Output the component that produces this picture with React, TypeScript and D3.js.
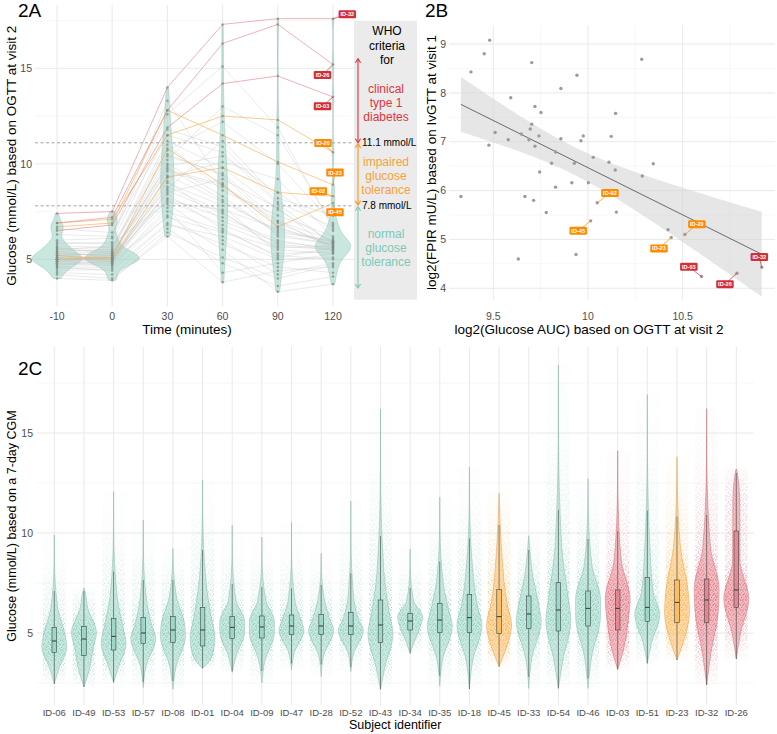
import React from "react";
import * as d3 from "d3";

const FONT = "'Liberation Sans', Arial, Helvetica, sans-serif";

// ---------------- 2A: OGTT at visit 2 ----------------
const timeLabels = ["-10", "0", "30", "60", "90", "120"];
const ogttIds = [
  "N01", "N02", "N03", "N04", "N05", "N06", "N07", "N08", "N09", "N10",
  "N11", "N12", "N13", "N14", "N15", "N16", "N17", "N18", "N19", "N20",
  "N21", "N22", "N23", "N24", "N25", "N26", "N27", "N28", "N29", "N30",
  "N31", "N32", "N33", "N34", "N35", "N36", "N37",
  "ID-20", "ID-23", "ID-02", "ID-45", "ID-32", "ID-26", "ID-03",
];
const ogttGroup = [
  "NGT", "NGT", "NGT", "NGT", "NGT", "NGT", "NGT", "NGT", "NGT", "NGT",
  "NGT", "NGT", "NGT", "NGT", "NGT", "NGT", "NGT", "NGT", "NGT", "NGT",
  "NGT", "NGT", "NGT", "NGT", "NGT", "NGT", "NGT", "NGT", "NGT", "NGT",
  "NGT", "NGT", "NGT", "NGT", "NGT", "NGT", "NGT",
  "IGT", "IGT", "IGT", "IGT", "T1D", "T1D", "T1D",
];
const gM10 = [5.0, 4.8, 5.3, 4.6, 5.5, 5.1, 4.4, 5.7, 5.2, 4.9, 6.0, 4.7, 5.4, 5.0, 4.3, 5.8, 5.1, 4.5, 5.6, 4.9, 5.3, 4.8, 6.3, 5.0, 4.6, 5.2, 5.5, 4.2, 5.9, 5.1, 4.7, 5.4, 4.0, 5.0, 5.6, 4.9, 6.6, 6.9, 6.7, 5.2, 5.0, 7.4, 6.9, 6.5];
const g0 = [5.1, 4.9, 5.2, 4.7, 5.4, 5.0, 4.5, 5.6, 5.3, 5.0, 6.1, 4.8, 5.5, 4.9, 4.2, 5.9, 5.2, 4.6, 5.5, 5.1, 5.4, 4.7, 6.2, 5.0, 4.4, 5.3, 5.7, 4.0, 5.8, 4.9, 4.9, 5.1, 3.9, 5.2, 5.3, 4.8, 6.4, 7.1, 6.9, 5.0, 5.1, 7.5, 7.2, 6.8];
const g30 = [8.2, 9.4, 10.4, 7.5, 9.9, 8.8, 6.9, 11.2, 9.6, 7.9, 12.6, 8.5, 10.7, 9.1, 6.6, 11.8, 10.0, 7.3, 11.0, 8.1, 9.3, 7.7, 13.3, 9.7, 6.8, 8.7, 10.5, 6.2, 8.0, 9.0, 7.2, 10.2, 6.4, 8.4, 9.8, 8.6, 11.5, 11.5, 12.8, 9.3, 10.8, 14.0, 12.8, 11.9];
const g60 = [7.2, 8.0, 9.5, 6.5, 10.4, 7.5, 5.8, 9.8, 8.8, 6.0, 15.1, 9.2, 12.2, 7.0, 4.8, 10.9, 8.3, 5.5, 8.6, 6.8, 10.1, 4.3, 9.0, 8.9, 6.2, 11.2, 9.4, 3.8, 7.6, 7.8, 6.4, 13.0, 5.1, 6.6, 8.1, 7.4, 10.6, 12.5, 11.5, 9.8, 8.9, 17.3, 16.3, 14.2];
const g90 = [6.0, 6.5, 7.0, 5.2, 8.5, 5.5, 4.6, 7.6, 6.9, 4.2, 11.9, 7.7, 10.0, 5.9, 3.6, 8.0, 6.3, 3.3, 7.3, 5.7, 9.2, 4.8, 6.2, 7.0, 5.0, 8.2, 6.7, 4.4, 6.6, 5.3, 5.6, 11.5, 4.0, 5.1, 6.4, 5.8, 7.9, 12.3, 10.1, 8.5, 6.7, 17.6, 17.3, 14.6];
const g120 = [5.5, 5.9, 6.0, 5.0, 6.5, 5.3, 4.3, 5.9, 5.7, 4.8, 6.6, 5.4, 6.9, 5.6, 4.1, 6.7, 5.8, 3.7, 6.2, 5.5, 6.1, 5.3, 5.8, 5.6, 5.1, 7.3, 5.7, 4.6, 5.9, 5.4, 5.7, 6.8, 4.7, 5.6, 6.0, 5.5, 5.8, 10.6, 8.9, 8.3, 7.95, 17.6, 15.2, 13.5];
const ogttThresholds = [11.1, 7.8];
const aYTicks = [5, 10, 15];
const aYMinor = [7.5, 12.5, 17.5];

// ---------------- 2B: FPIR vs glucose AUC ----------------
const aucLog2 = [9.382, 9.452, 9.481, 9.703, 9.592, 9.857, 9.942, 9.72, 9.752, 9.51, 9.703, 9.695, 9.648, 9.579, 9.688, 9.741, 9.857, 9.975, 9.963, 9.477, 9.72, 10.284, 10.146, 10.123, 9.329, 9.829, 9.808, 9.928, 9.745, 9.829, 9.915, 10.002, 9.667, 9.713, 9.78, 9.632, 9.937, 10.028, 10.111, 10.144, 10.345, 10.287, 10.049, 10.15, 10.014, 10.423, 10.44, 10.512, 10.6, 10.787, 10.918];
const fpirLog2 = [8.43, 8.8, 9.08, 8.62, 7.9, 8.09, 8.36, 7.72, 7.6, 7.19, 7.36, 7.26, 7.16, 7.04, 7.04, 7.12, 7.06, 7.12, 7.02, 6.93, 6.91, 8.69, 7.58, 7.11, 5.88, 6.79, 6.56, 6.56, 6.38, 6.07, 6.16, 6.16, 5.88, 5.8, 5.55, 4.6, 4.69, 6.68, 6.58, 6.42, 6.55, 6.3, 5.75, 5.56, 5.38, 5.2, 5.04, 5.1, 4.24, 4.31, 4.43];
const fpirIds = ["", "", "", "", "", "", "", "", "", "", "", "", "", "", "", "", "", "", "", "", "", "", "", "", "", "", "", "", "", "", "", "", "", "", "", "", "", "", "", "", "", "", "ID-02", "", "ID-45", "", "ID-23", "ID-20", "ID-03", "ID-26", "ID-32"];
const fpirGroup = ["", "", "", "", "", "", "", "", "", "", "", "", "", "", "", "", "", "", "", "", "", "", "", "", "", "", "", "", "", "", "", "", "", "", "", "", "", "", "", "", "", "", "IGT", "", "IGT", "", "IGT", "IGT", "T1D", "T1D", "T1D"];
const bXTicks = [9.5, 10, 10.5];
const bXMinor = [9.75, 10.25, 10.75];
const bYTicks = [4, 5, 6, 7, 8, 9];
const bYMinor = [4.5, 5.5, 6.5, 7.5, 8.5];

// ---------------- 2C: 7-day CGM ----------------
const cgmIds = ["ID-06", "ID-49", "ID-53", "ID-57", "ID-08", "ID-01", "ID-04", "ID-09", "ID-47", "ID-28", "ID-52", "ID-43", "ID-34", "ID-35", "ID-18", "ID-45", "ID-33", "ID-54", "ID-46", "ID-03", "ID-51", "ID-23", "ID-32", "ID-26"];
const cgmGroup = ["NGT", "NGT", "NGT", "NGT", "NGT", "NGT", "NGT", "NGT", "NGT", "NGT", "NGT", "NGT", "NGT", "NGT", "NGT", "IGT", "NGT", "NGT", "NGT", "T1D", "NGT", "IGT", "T1D", "T1D"];
const cgmMin = [2.45, 2.3, 2.53, 2.27, 2.18, 3.23, 3.03, 2.5, 3.15, 2.82, 3.07, 2.18, 3.98, 2.35, 2.2, 3.32, 2.23, 2.23, 2.23, 3.18, 3.48, 3.65, 2.4, 3.7];
const cgmQ1 = [4.02, 3.87, 4.15, 4.48, 4.53, 4.35, 4.73, 4.75, 4.93, 4.93, 4.93, 4.52, 5.15, 5.03, 5.03, 4.97, 5.23, 5.1, 5.35, 5.15, 5.57, 5.53, 5.53, 6.28];
const cgmMedian = [4.6, 4.7, 4.83, 5.0, 5.15, 5.15, 5.28, 5.3, 5.35, 5.35, 5.35, 5.4, 5.6, 5.65, 5.77, 5.82, 5.95, 6.15, 6.23, 6.23, 6.28, 6.53, 6.65, 7.15];
const cgmQ3 = [5.28, 5.32, 5.73, 5.77, 5.82, 6.27, 5.82, 5.85, 5.9, 5.93, 6.03, 6.65, 5.98, 6.48, 6.93, 7.18, 6.85, 7.52, 7.1, 7.15, 7.78, 7.65, 7.7, 10.1];
const cgmUpper = [7.1, 7.1, 8.07, 7.65, 7.65, 9.15, 7.45, 7.3, 7.23, 7.4, 7.98, 9.85, 7.25, 8.57, 9.73, 10.4, 9.15, 11.15, 9.7, 10.1, 11.12, 10.82, 10.9, 13.0];
const cgmMax = [9.9, 7.25, 12.07, 10.65, 9.23, 12.65, 10.4, 9.8, 10.53, 8.98, 11.6, 16.2, 9.2, 11.8, 13.3, 12.0, 9.87, 18.4, 12.73, 14.12, 16.93, 13.82, 16.23, 13.2];
const cYTicks = [5, 10, 15];
const cYMinor = [2.5, 7.5, 12.5, 17.5];

// ---------------- styles / layout (not data) ----------------
const COL = {
  tealFill: "#8fd0bf",
  tealDot: "#6fc3ad",
  tealStroke: "#79a99d",
  orange: "#ff9416",
  orangeDot: "#ffa52a",
  red: "#d9343f",
  redDot: "#e0596b",
  grid: "#e6e6e6",
  gridMinor: "#f1f1f1",
};
const groupFill: Record<string, string> = { NGT: COL.tealFill, IGT: "#ffb24a", T1D: "#e2707d" };
const groupDot: Record<string, string> = { NGT: COL.tealDot, IGT: COL.orangeDot, T1D: COL.redDot };
const groupStroke: Record<string, string> = { NGT: COL.tealStroke, IGT: "#d98a2a", T1D: "#c35462" };
const lineCol: Record<string, string> = { NGT: "#bdbdbd", IGT: "#f5a94a", T1D: "#e07f86" };
const labelFill: Record<string, string> = { IGT: "#ff8c00", T1D: "#d32f3a" };

const labelOffsetsA: Record<string, [number, number]> = {
  "ID-32": [14.3, -4.3], "ID-26": [-10.5, 10.5], "ID-03": [-10.5, 9.3],
  "ID-20": [-10, -9.3], "ID-23": [2, -12.3], "ID-02": [-14.7, -5], "ID-45": [2, 9.3],
};
const labelOffsetsB: Record<string, [number, number]> = {
  "ID-02": [12.7, -9.7], "ID-45": [-12.4, 10], "ID-23": [-12.3, 11], "ID-20": [12, -10.4],
  "ID-03": [-12.7, -9.7], "ID-26": [-12, 11], "ID-32": [-2.4, -10.2],
};
const dotTile: [number, number][] = [
  [0.7, 0.5], [3.1, 1.2], [5.9, 0.3], [8.4, 1.6], [1.9, 2.8], [4.6, 3.3], [7.2, 3.0], [9.5, 4.1],
  [0.4, 4.9], [2.8, 5.6], [5.5, 5.9], [8.0, 6.4], [1.5, 7.4], [4.0, 8.1], [6.6, 7.7], [9.2, 8.6],
  [0.9, 9.5], [3.3, 9.8], [5.8, 9.3], [7.9, 9.9], [2.2, 0.1], [6.8, 5.1], [3.6, 4.4], [8.7, 2.9],
];

function kde(vals: number[]) {
  const s = [...vals].sort(d3.ascending);
  const n = s.length;
  const sd = d3.deviation(s) as number;
  const iqr = (d3.quantile(s, 0.75) as number) - (d3.quantile(s, 0.25) as number);
  const bw = 0.9 * Math.min(sd, iqr / 1.34) * Math.pow(n, -0.2);
  const lo = s[0], hi = s[n - 1];
  return d3.range(81).map((i) => {
    const g = lo + ((hi - lo) * i) / 80;
    const dens = (d3.mean(s, (v) => Math.exp(-0.5 * ((g - v) / bw) ** 2)) as number) / (bw * Math.sqrt(2 * Math.PI));
    return [g, dens] as [number, number];
  });
}

function LabelBox({ x, y, text, fill }: { x: number; y: number; text: string; fill: string }) {
  const w = 17.5, h = 8;
  return (
    <g>
      <rect x={x - w / 2} y={y - h / 2} width={w} height={h} rx={1.3} fill={fill} />
      <text x={x} y={y + 2} fontSize={5.6} fontWeight="bold" fill="#fff" textAnchor="middle">{text}</text>
    </g>
  );
}

function VArrow({ x, y1, y2, color }: { x: number; y1: number; y2: number; color: string }) {
  const a = 2.6, b = 4;
  const top = Math.min(y1, y2), bot = Math.max(y1, y2);
  return (
    <g stroke={color} strokeWidth={1.1} fill="none">
      <line x1={x} x2={x} y1={top} y2={bot} />
      <polyline points={`${x - a},${top + b} ${x},${top} ${x + a},${top + b}`} />
      <polyline points={`${x - a},${bot - b} ${x},${bot} ${x + a},${bot - b}`} />
    </g>
  );
}

export default function App() {
  // ===== Panel A =====
  const aLeft = 35, aRight = 354, aTop = 4.9, aBot = 306.5;
  const xA = d3.scalePoint<string>().domain(timeLabels).range([57, 333]);
  const yA = d3.scaleLinear().domain([2.53, 18.32]).range([aBot, aTop]);
  const series = [gM10, g0, g30, g60, g90, g120];
  const dens = series.map(kde);
  const maxD = d3.max(dens.flat(), (d) => d[1]) as number;
  const violinA = (i: number) => {
    const cx = xA(timeLabels[i]) as number;
    const w = (d: number) => (27 * d) / maxD;
    return d3.area<[number, number]>().y((d) => yA(d[0])).x0((d) => cx - w(d[1])).x1((d) => cx + w(d[1])).curve(d3.curveCatmullRom)(dens[i]) as string;
  };
  const order = ogttIds.map((_, i) => i).sort((a, b) => {
    const r: Record<string, number> = { NGT: 0, IGT: 1, T1D: 2 };
    return r[ogttGroup[a]] - r[ogttGroup[b]];
  });
  const lineGen = d3.line<number>().x((_, k) => xA(timeLabels[k]) as number).y((v) => yA(v));

  // ===== Panel B =====
  const bLeft = 449, bRight = 775, bTop = 25, bBot = 300;
  const xB = d3.scaleLinear().domain([9.266, 10.988]).range([bLeft, bRight]);
  const yB = d3.scaleLinear().domain([3.76, 9.39]).range([bBot, bTop]);
  const n = aucLog2.length;
  const mx = d3.mean(aucLog2) as number, my = d3.mean(fpirLog2) as number;
  const sxx = d3.sum(aucLog2, (v) => (v - mx) ** 2);
  const sxy = d3.sum(aucLog2.map((v, i) => (v - mx) * (fpirLog2[i] - my)));
  const slope = sxy / sxx, icpt = my - slope * mx;
  const resid = d3.sum(aucLog2.map((v, i) => (fpirLog2[i] - (icpt + slope * v)) ** 2));
  const s = Math.sqrt(resid / (n - 2));
  const tcrit = 2.01;
  const [xmin, xmax] = d3.extent(aucLog2) as [number, number];
  const bandPts = d3.range(81).map((i) => {
    const x = xmin + ((xmax - xmin) * i) / 80;
    const fit = icpt + slope * x;
    const se = s * Math.sqrt(1 / n + (x - mx) ** 2 / sxx);
    return { x, fit, lo: fit - tcrit * se, hi: fit + tcrit * se };
  });
  const bandPath = d3.area<any>().x((d) => xB(d.x)).y0((d) => yB(d.lo)).y1((d) => yB(d.hi))(bandPts) as string;

  // ===== Panel C =====
  const cLeft = 36.5, cRight = 754, cTop = 347, cBot = 705;
  const xC = d3.scalePoint<string>().domain(cgmIds).range([54.3, 736.3]);
  const yC = d3.scaleLinear().domain([1.4, 19.3]).range([cBot, cTop]);
  const probs = [0, 0.25, 0.5, 0.75, 0.98, 1];
  const cgm = cgmIds.map((id, i) => {
    const knots = [cgmMin[i], cgmQ1[i], cgmMedian[i], cgmQ3[i], Math.min(cgmUpper[i], cgmMax[i]), cgmMax[i]];
    const pts: [number, number][] = [[knots[0], 0]];
    for (let k = 0; k < 5; k++) {
      const len = Math.max(knots[k + 1] - knots[k], k === 4 ? 1.2 : 0.1);
      pts.push([(knots[k] + knots[k + 1]) / 2, (probs[k + 1] - probs[k]) / len]);
    }
    pts.push([knots[5], 0]);
    const dmax = d3.max(pts, (p) => p[1]) as number;
    const iqr = cgmQ3[i] - cgmQ1[i];
    const lowW = Math.max(cgmMin[i], cgmQ1[i] - 1.5 * iqr);
    return { id, i, pts, dmax, lowW, upW: Math.min(cgmUpper[i], cgmMax[i]), cx: xC(id) as number, g: cgmGroup[i] };
  });
  const HW = 12.5, JW = 11.5;

  const tick = { fontSize: 10.5, fill: "#4d4d4d" } as const;

  return (
    <svg width={777} height={734} style={{ position: "absolute", left: 0, top: 0, background: "#fff" }} fontFamily={FONT}>
      <defs>
        {Object.entries(groupDot).map(([g, c]) => (
          <pattern key={g} id={`dots-${g}`} width={10} height={10} patternUnits="userSpaceOnUse">
            {dotTile.map(([px, py], k) => <circle key={k} cx={px} cy={py} r={0.6} fill={c} />)}
          </pattern>
        ))}
        {cgm.map((c) => {
          const y0 = yC(cgmMax[c.i]), y1 = yC(cgmMin[c.i]);
          const stops = [...c.pts].reverse().map(([v, d]) => ({
            off: (yC(v) - y0) / (y1 - y0),
            op: d === 0 ? 0.05 : 0.06 + 0.94 * Math.pow(d / c.dmax, 0.9),
          }));
          return (
            <React.Fragment key={c.id}>
              <linearGradient id={`jg${c.i}`} gradientUnits="userSpaceOnUse" x1={0} x2={0} y1={y0} y2={y1}>
                {stops.map((st, k) => <stop key={k} offset={st.off} stopColor="#fff" stopOpacity={st.op} />)}
              </linearGradient>
              <mask id={`jm${c.i}`} maskUnits="userSpaceOnUse" x={0} y={0} width={777} height={734}>
                <rect x={c.cx - JW} y={y0} width={2 * JW} height={y1 - y0} fill={`url(#jg${c.i})`} />
              </mask>
            </React.Fragment>
          );
        })}
      </defs>

      {/* ================= PANEL A ================= */}
      <g>
        {aYMinor.map((v) => <line key={v} x1={aLeft} x2={aRight} y1={yA(v)} y2={yA(v)} stroke={COL.gridMinor} strokeWidth={0.6} />)}
        {aYTicks.map((v) => <line key={v} x1={aLeft} x2={aRight} y1={yA(v)} y2={yA(v)} stroke={COL.grid} strokeWidth={0.9} />)}
        {timeLabels.map((t) => <line key={t} x1={xA(t)} x2={xA(t)} y1={aTop} y2={aBot} stroke={COL.grid} strokeWidth={0.9} />)}
        {ogttThresholds.map((v) => <line key={v} x1={aLeft} x2={356} y1={yA(v)} y2={yA(v)} stroke="#8a8a8a" strokeWidth={0.8} strokeDasharray="3,2.5" />)}
        {timeLabels.map((t, i) => <path key={t} d={violinA(i)} fill={COL.tealFill} fillOpacity={0.5} stroke={COL.tealStroke} strokeWidth={0.4} strokeOpacity={0.8} />)}
        {order.map((i) => (
          <path key={ogttIds[i]} d={lineGen([gM10[i], g0[i], g30[i], g60[i], g90[i], g120[i]]) as string}
            fill="none" stroke={lineCol[ogttGroup[i]]} strokeWidth={ogttGroup[i] === "NGT" ? 0.5 : 0.7} strokeOpacity={ogttGroup[i] === "NGT" ? 0.65 : 0.85} />
        ))}
        {series.map((arr, k) => arr.map((v, i) => (
          <circle key={`${k}-${i}`} cx={xA(timeLabels[k])} cy={yA(v)} r={1.25} fill="#7d8a87" fillOpacity={0.7} />
        )))}
        {ogttIds.map((id, i) => {
          const o = labelOffsetsA[id];
          if (!o) return null;
          const px = xA("120") as number, py = yA(g120[i]);
          const c = labelFill[ogttGroup[i]];
          return (
            <g key={id}>
              <line x1={px} y1={py} x2={px + o[0]} y2={py + o[1]} stroke={c} strokeWidth={0.7} />
              <LabelBox x={px + o[0]} y={py + o[1]} text={id} fill={c} />
            </g>
          );
        })}
        {/* WHO annotation */}
        <rect x={354} y={20.7} width={63} height={279} fill="#ebebeb" />
        <VArrow x={358} y1={yA(11.1)} y2={yA(15.5)} color={COL.red} />
        <VArrow x={358} y1={yA(7.85)} y2={yA(11.05)} color={COL.orange} />
        <VArrow x={358} y1={yA(3.5)} y2={yA(7.75)} color={"#7cc9b6"} />
        <g fontSize={12} textAnchor="middle">
          <text x={387} y={35}>WHO</text>
          <text x={387} y={49.5}>criteria</text>
          <text x={387} y={64}>for</text>
          <g fill="#e0353c">
            <text x={386} y={92.5}>clinical</text>
            <text x={386} y={106.5}>type 1</text>
            <text x={386} y={120.5}>diabetes</text>
          </g>
          <g fill="#f7a23a">
            <text x={386} y={166}>impaired</text>
            <text x={386} y={180}>glucose</text>
            <text x={386} y={194}>tolerance</text>
          </g>
          <g fill="#7cc9b6">
            <text x={386} y={237.5}>normal</text>
            <text x={386} y={252}>glucose</text>
            <text x={386} y={266}>tolerance</text>
          </g>
        </g>
        <text x={362} y={yA(11.1) + 3.6} fontSize={10}>11.1 mmol/L</text>
        <text x={362} y={yA(7.8) + 3.6} fontSize={10}>7.8 mmol/L</text>
        {/* axes */}
        {aYTicks.map((v) => <text key={v} x={32} y={yA(v) + 3.7} textAnchor="end" {...tick}>{v}</text>)}
        {timeLabels.map((t) => <text key={t} x={xA(t)} y={319.5} textAnchor="middle" {...tick}>{t}</text>)}
        <text x={187} y={334} fontSize={13.5} textAnchor="middle">Time (minutes)</text>
        <text transform={`translate(16,${(aTop + aBot) / 2}) rotate(-90)`} fontSize={13.5} textAnchor="middle">Glucose (mmol/L) based on OGTT at visit 2</text>
        <text x={18} y={17} fontSize={19}>2A</text>
      </g>

      {/* ================= PANEL B ================= */}
      <g>
        {bYMinor.map((v) => <line key={v} x1={bLeft} x2={bRight} y1={yB(v)} y2={yB(v)} stroke={COL.gridMinor} strokeWidth={0.6} />)}
        {bXMinor.map((v) => <line key={v} x1={xB(v)} x2={xB(v)} y1={bTop} y2={bBot} stroke={COL.gridMinor} strokeWidth={0.6} />)}
        {bYTicks.map((v) => <line key={v} x1={bLeft} x2={bRight} y1={yB(v)} y2={yB(v)} stroke={COL.grid} strokeWidth={0.9} />)}
        {bXTicks.map((v) => <line key={v} x1={xB(v)} x2={xB(v)} y1={bTop} y2={bBot} stroke={COL.grid} strokeWidth={0.9} />)}
        <path d={bandPath} fill="#d6d6d6" fillOpacity={0.6} />
        <line x1={xB(xmin)} x2={xB(xmax)} y1={yB(icpt + slope * xmin)} y2={yB(icpt + slope * xmax)} stroke="#333" strokeWidth={0.7} />
        {aucLog2.map((v, i) => <circle key={i} cx={xB(v)} cy={yB(fpirLog2[i])} r={1.7} fill="#9b9b9b" />)}
        {fpirIds.map((id, i) => {
          const o = labelOffsetsB[id];
          if (!o) return null;
          const px = xB(aucLog2[i]), py = yB(fpirLog2[i]);
          const c = labelFill[fpirGroup[i]];
          return (
            <g key={id}>
              <line x1={px} y1={py} x2={px + o[0]} y2={py + o[1]} stroke={c} strokeWidth={0.7} />
              <LabelBox x={px + o[0]} y={py + o[1]} text={id} fill={c} />
            </g>
          );
        })}
        {bYTicks.map((v) => <text key={v} x={446} y={yB(v) + 3.7} textAnchor="end" {...tick}>{v}</text>)}
        {bXTicks.map((v) => <text key={v} x={xB(v)} y={319.5} textAnchor="middle" {...tick}>{v}</text>)}
        <text x={589} y={334} fontSize={13.5} textAnchor="middle">log2(Glucose AUC) based on OGTT at visit 2</text>
        <text transform={`translate(436,${(bTop + bBot) / 2}) rotate(-90)`} fontSize={13.5} textAnchor="middle">log2(FPIR mU/L) based on IvGTT at visit 1</text>
        <text x={425} y={17} fontSize={19}>2B</text>
      </g>

      {/* ================= PANEL C ================= */}
      <g>
        {cYMinor.map((v) => <line key={v} x1={cLeft} x2={cRight} y1={yC(v)} y2={yC(v)} stroke={COL.gridMinor} strokeWidth={0.6} />)}
        {cYTicks.map((v) => <line key={v} x1={cLeft} x2={cRight} y1={yC(v)} y2={yC(v)} stroke={COL.grid} strokeWidth={0.9} />)}
        {cgmIds.map((id) => <line key={id} x1={xC(id)} x2={xC(id)} y1={cTop} y2={cBot} stroke={COL.grid} strokeWidth={0.9} />)}
        {cgm.map((c) => (
          <rect key={`j${c.id}`} x={c.cx - JW} y={yC(cgmMax[c.i])} width={2 * JW} height={yC(cgmMin[c.i]) - yC(cgmMax[c.i])}
            fill={`url(#dots-${c.g})`} mask={`url(#jm${c.i})`} />
        ))}
        {cgm.map((c) => {
          const path = d3.area<[number, number]>().y((d) => yC(d[0]))
            .x0((d) => c.cx - (HW * d[1]) / c.dmax).x1((d) => c.cx + (HW * d[1]) / c.dmax)
            .curve(d3.curveMonotoneY)(c.pts) as string;
          return <path key={`v${c.id}`} d={path} fill={groupFill[c.g]} fillOpacity={0.45} stroke={groupStroke[c.g]} strokeWidth={0.5} strokeOpacity={0.8} />;
        })}
        {cgm.map((c) => {
          const bw = 4.6;
          return (
            <g key={`b${c.id}`} stroke="#3b4744" strokeWidth={0.6}>
              <line x1={c.cx} x2={c.cx} y1={yC(c.upW)} y2={yC(cgmQ3[c.i])} />
              <line x1={c.cx} x2={c.cx} y1={yC(cgmQ1[c.i])} y2={yC(c.lowW)} />
              <rect x={c.cx - bw / 2} y={yC(cgmQ3[c.i])} width={bw} height={yC(cgmQ1[c.i]) - yC(cgmQ3[c.i])} fill={groupFill[c.g]} fillOpacity={0.6} />
              <line x1={c.cx - bw / 2} x2={c.cx + bw / 2} y1={yC(cgmMedian[c.i])} y2={yC(cgmMedian[c.i])} strokeWidth={1.1} />
            </g>
          );
        })}
        {cYTicks.map((v) => <text key={v} x={33} y={yC(v) + 3.7} textAnchor="end" {...tick}>{v}</text>)}
        {cgmIds.map((id) => <text key={id} x={xC(id)} y={715.5} textAnchor="middle" fontSize={9.5} fill="#4d4d4d">{id}</text>)}
        <text x={(cLeft + cRight) / 2} y={729} fontSize={12.5} textAnchor="middle">Subject identifier</text>
        <text transform={`translate(16,${(cTop + cBot) / 2}) rotate(-90)`} fontSize={12.5} textAnchor="middle">Glucose (mmol/L) based on a 7-day CGM</text>
        <text x={18} y={375} fontSize={19}>2C</text>
      </g>
    </svg>
  );
}
